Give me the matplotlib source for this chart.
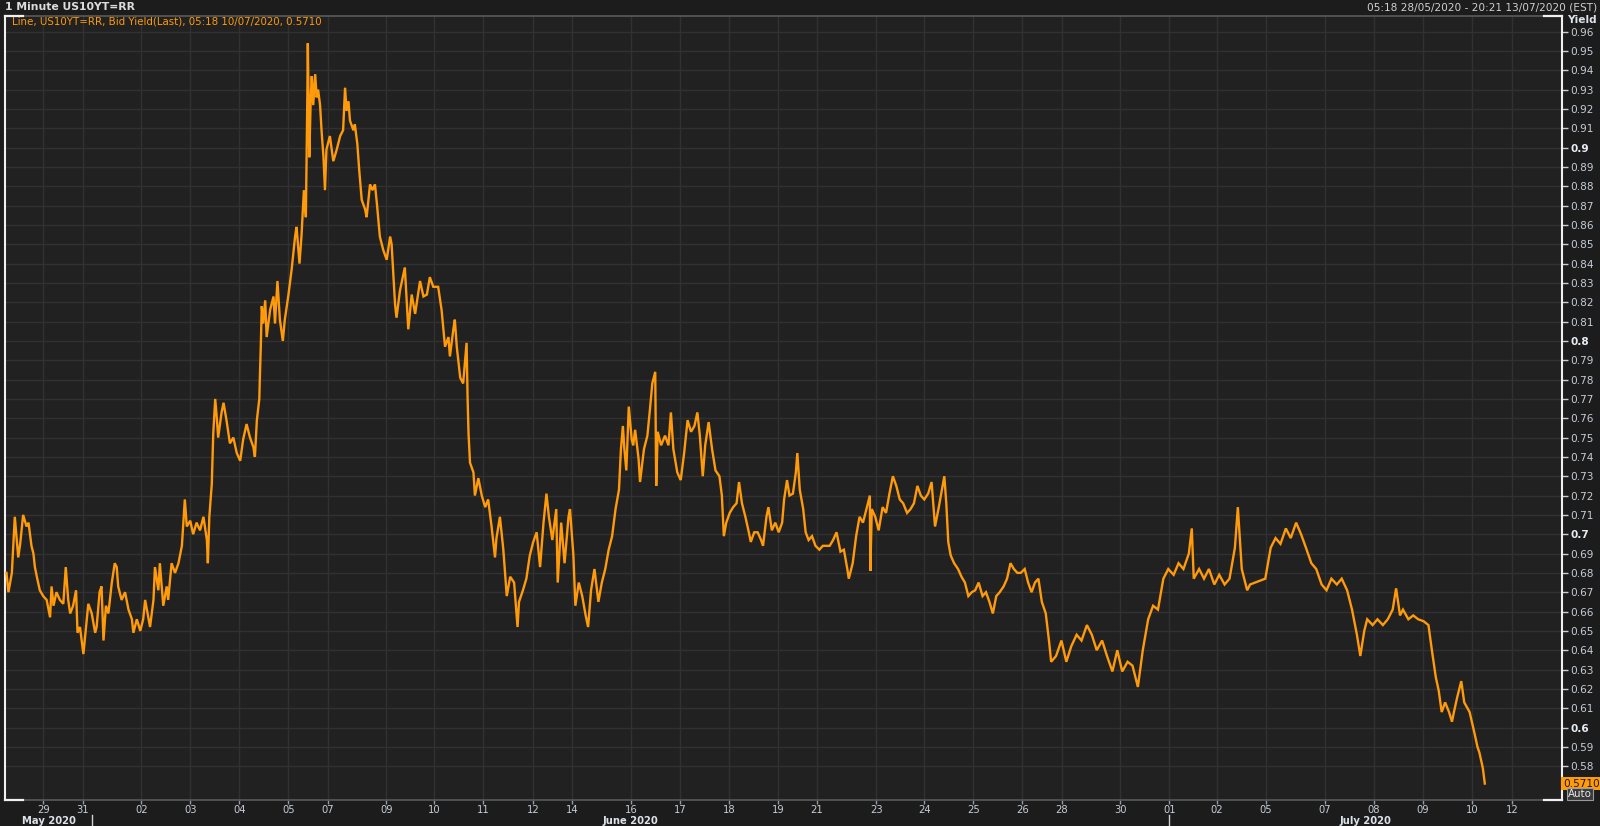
import matplotlib
matplotlib.use("Agg")
import matplotlib.pyplot as plt
import matplotlib.transforms as mtransforms

# ---------------- data (session-day units from 05:18 28/05/2020) ----------------
t_days = [
    0.03, 0.07, 0.14, 0.20, 0.24, 0.27, 0.31, 0.37, 0.44, 0.48, 0.54, 0.58, 0.61, 0.65, 0.71,
    0.78, 0.85, 0.92, 0.95, 0.99, 1.05, 1.12, 1.19, 1.24, 1.29, 1.33, 1.39, 1.45, 1.48, 1.53,
    1.60, 1.67, 1.70, 1.77, 1.84, 1.87, 1.93, 1.97, 2.01, 2.06, 2.11, 2.18, 2.24, 2.28, 2.31,
    2.38, 2.45, 2.52, 2.59, 2.62, 2.69, 2.76, 2.82, 2.86, 2.93, 2.96, 3.03, 3.06, 3.13, 3.16,
    3.23, 3.30, 3.33, 3.40, 3.47, 3.54, 3.61, 3.67, 3.71, 3.78, 3.84, 3.91, 3.98, 4.05, 4.12,
    4.14, 4.17, 4.22, 4.25, 4.29, 4.32, 4.35, 4.42, 4.46, 4.52, 4.59, 4.66, 4.73, 4.80, 4.86,
    4.93, 5.00, 5.07, 5.10, 5.14, 5.19, 5.20, 5.22, 5.24, 5.27, 5.31, 5.34, 5.41, 5.48, 5.51,
    5.56, 5.61, 5.67, 5.71, 5.78, 5.85, 5.92, 5.95, 6.01, 6.05, 6.10, 6.14, 6.17, 6.18, 6.21,
    6.24, 6.26, 6.29, 6.33, 6.36, 6.39, 6.43, 6.46, 6.50, 6.53, 6.56, 6.63, 6.70, 6.77, 6.84,
    6.90, 6.94, 6.97, 7.01, 7.04, 7.11, 7.14, 7.19, 7.23, 7.28, 7.35, 7.38, 7.45, 7.50, 7.55,
    7.59, 7.65, 7.72, 7.79, 7.86, 7.89, 7.96, 7.99, 8.06, 8.16, 8.23, 8.30, 8.37, 8.47, 8.54,
    8.61, 8.67, 8.74, 8.84, 8.91, 8.98, 9.05, 9.08, 9.15, 9.18, 9.22, 9.29, 9.35, 9.42, 9.44,
    9.46, 9.49, 9.56, 9.59, 9.66, 9.73, 9.80, 9.86, 9.93, 10.00, 10.03,
    10.10, 10.17, 10.21, 10.24, 10.31, 10.39, 10.46, 10.49, 10.57, 10.64, 10.71, 10.78, 10.85,
    10.92, 10.99, 11.05, 11.10, 11.17, 11.25, 11.28, 11.35, 11.42, 11.50, 11.53, 11.60, 11.64,
    11.71, 11.78, 11.85, 11.90, 11.96, 12.03, 12.11, 12.18, 12.25, 12.32, 12.39, 12.46, 12.53,
    12.57, 12.61, 12.64, 12.68, 12.73, 12.79, 12.82, 12.86, 12.93, 12.96, 13.04, 13.11, 13.16,
    13.21, 13.27, 13.29, 13.32, 13.39, 13.47, 13.54, 13.59, 13.64, 13.72, 13.79, 13.86, 13.93,
    14.00, 14.07, 14.13, 14.18, 14.24, 14.29, 14.36, 14.43, 14.50, 14.58, 14.63, 14.67, 14.72,
    14.79, 14.86, 14.93, 14.98, 15.04, 15.11, 15.18, 15.22, 15.29, 15.36, 15.43, 15.47, 15.54,
    15.58, 15.65, 15.72, 15.79, 15.86, 15.90, 15.96, 16.01, 16.08, 16.14, 16.17, 16.22, 16.29,
    16.34, 16.40, 16.47, 16.54, 16.62, 16.69, 16.76, 16.83, 16.90, 16.97, 17.05, 17.12, 17.19,
    17.22, 17.30, 17.37, 17.44, 17.51, 17.58, 17.65, 17.66, 17.69, 17.76, 17.83, 17.91, 17.98,
    18.05, 18.12, 18.19, 18.26, 18.33, 18.41, 18.48, 18.55, 18.62, 18.69, 18.76, 18.84, 18.91,
    18.98, 19.05, 19.12, 19.17, 19.21, 19.25, 19.30, 19.37, 19.45, 19.52, 19.59, 19.66, 19.73,
    19.80, 19.87, 19.95, 20.02, 20.09, 20.16, 20.23, 20.30, 20.38, 20.45, 20.52, 20.59, 20.66,
    20.73, 20.81, 20.88, 20.95, 21.02, 21.09, 21.16, 21.24, 21.31,
    21.35, 21.45, 21.56, 21.66, 21.76, 21.87, 21.97, 22.08, 22.18, 22.28, 22.39, 22.49, 22.60,
    22.70, 22.80, 22.91, 23.01, 23.12, 23.22, 23.33, 23.43, 23.53, 23.64, 23.74, 23.85, 23.95,
    24.05, 24.16, 24.22, 24.26, 24.37, 24.47, 24.57, 24.68, 24.78, 24.89, 24.99, 25.10, 25.16,
    25.24, 25.35, 25.41, 25.72, 25.83, 25.93, 26.03, 26.14, 26.24, 26.35, 26.45, 26.55, 26.66,
    26.76, 26.87, 26.97, 27.07, 27.18, 27.28, 27.39, 27.49, 27.59, 27.66, 27.74, 27.80, 27.91,
    28.01, 28.12, 28.22, 28.32, 28.39, 28.47, 28.53, 28.64, 28.74, 28.84, 28.95, 29.05, 29.12,
    29.20, 29.26, 29.32, 29.39, 29.47, 29.53, 29.57, 29.64, 29.72, 29.78, 29.89, 29.99, 30.05,
    30.09, 30.16, 30.20,
]

yield_vals = [
    0.680, 0.670, 0.680, 0.709, 0.697, 0.688, 0.695, 0.710, 0.704, 0.706, 0.694, 0.690, 0.683, 0.678, 0.671,
    0.668, 0.666, 0.657, 0.673, 0.663, 0.670, 0.666, 0.664, 0.683, 0.666, 0.659, 0.663, 0.671, 0.649, 0.652,
    0.638, 0.656, 0.664, 0.659, 0.649, 0.652, 0.670, 0.673, 0.645, 0.663, 0.659, 0.675, 0.685, 0.683, 0.673,
    0.666, 0.670, 0.661, 0.656, 0.649, 0.656, 0.650, 0.656, 0.666, 0.656, 0.652, 0.666, 0.683, 0.671, 0.685,
    0.663, 0.673, 0.666, 0.685, 0.680, 0.685, 0.694, 0.718, 0.704, 0.707, 0.700, 0.706, 0.702, 0.709, 0.697,
    0.685, 0.709, 0.726, 0.752, 0.770, 0.761, 0.750, 0.763, 0.768, 0.759, 0.747, 0.750, 0.742, 0.738, 0.749,
    0.757, 0.750, 0.745, 0.740, 0.759, 0.770, 0.780, 0.797, 0.818, 0.809, 0.821, 0.802, 0.816, 0.823, 0.809,
    0.831, 0.811, 0.800, 0.811, 0.823, 0.837, 0.854, 0.859, 0.840, 0.854, 0.878, 0.864, 0.926, 0.954, 0.895,
    0.926, 0.937, 0.922, 0.938, 0.926, 0.930, 0.922, 0.909, 0.895, 0.878, 0.899, 0.906, 0.893, 0.899, 0.906,
    0.909, 0.931, 0.919, 0.924, 0.914, 0.909, 0.912, 0.902, 0.888, 0.873, 0.868, 0.864, 0.881, 0.878, 0.881,
    0.871, 0.854, 0.847, 0.842, 0.854, 0.850, 0.819, 0.812, 0.826, 0.838, 0.806, 0.824, 0.814, 0.831, 0.823,
    0.824, 0.833, 0.828, 0.828, 0.816, 0.797, 0.802, 0.792, 0.806, 0.811, 0.797, 0.781, 0.778, 0.799, 0.771,
    0.752, 0.737, 0.732, 0.720, 0.729, 0.720, 0.714, 0.718, 0.704, 0.688, 0.698,
    0.709, 0.692, 0.678, 0.668, 0.678, 0.675, 0.652, 0.665, 0.671, 0.677, 0.689, 0.696, 0.701,
    0.683, 0.706, 0.721, 0.709, 0.697, 0.713, 0.675, 0.706, 0.685, 0.709, 0.713, 0.689, 0.663,
    0.675, 0.668, 0.658, 0.652, 0.671, 0.682, 0.665, 0.675, 0.682, 0.692, 0.699, 0.713, 0.723,
    0.744, 0.756, 0.744, 0.733, 0.766, 0.749, 0.746, 0.754, 0.739, 0.727, 0.744, 0.751, 0.764,
    0.778, 0.784, 0.725, 0.753, 0.746, 0.751, 0.746, 0.763, 0.744, 0.732, 0.728, 0.742, 0.759,
    0.753, 0.756, 0.763, 0.751, 0.730, 0.746, 0.758, 0.744, 0.733, 0.730, 0.720, 0.699, 0.706,
    0.711, 0.714, 0.716, 0.727, 0.716, 0.709, 0.701, 0.696, 0.701, 0.701, 0.697, 0.694, 0.709,
    0.714, 0.702, 0.706, 0.701, 0.706, 0.718, 0.728, 0.720, 0.721, 0.732, 0.742, 0.723, 0.713,
    0.701, 0.697, 0.699, 0.694, 0.692, 0.694, 0.694, 0.694, 0.697, 0.701, 0.691, 0.692, 0.682,
    0.677, 0.685, 0.699, 0.709, 0.706, 0.713, 0.720, 0.681, 0.713, 0.709, 0.702, 0.714, 0.711,
    0.721, 0.730, 0.725, 0.718, 0.716, 0.711, 0.713, 0.716, 0.725, 0.720, 0.718, 0.721, 0.727,
    0.704, 0.713, 0.723, 0.730, 0.716, 0.696, 0.689, 0.685, 0.682, 0.678, 0.675, 0.668, 0.670,
    0.671, 0.675, 0.668, 0.670, 0.665, 0.659, 0.668, 0.670, 0.673, 0.677, 0.685, 0.682, 0.680,
    0.680, 0.682, 0.675, 0.670, 0.675, 0.677, 0.665, 0.659, 0.644,
    0.634, 0.637, 0.645, 0.634, 0.642, 0.648, 0.645, 0.653, 0.648, 0.640, 0.645, 0.637, 0.629,
    0.640, 0.629, 0.634, 0.632, 0.621, 0.640, 0.656, 0.663, 0.661, 0.677, 0.682, 0.679, 0.685,
    0.682, 0.690, 0.703, 0.677, 0.682, 0.677, 0.682, 0.674, 0.679, 0.674, 0.677, 0.693, 0.714,
    0.682, 0.671, 0.674, 0.677, 0.693, 0.698, 0.695, 0.703, 0.698, 0.706, 0.700, 0.693, 0.685,
    0.682, 0.674, 0.671, 0.677, 0.674, 0.677, 0.671, 0.661, 0.648, 0.637, 0.650, 0.656, 0.653,
    0.656, 0.653, 0.656, 0.661, 0.672, 0.658, 0.661, 0.656, 0.658, 0.656, 0.655, 0.653, 0.640,
    0.626, 0.619, 0.608, 0.613, 0.608, 0.603, 0.608, 0.616, 0.624, 0.613, 0.608, 0.597, 0.590,
    0.587, 0.579, 0.571,
]

tick_days = [0.78, 1.59, 2.78, 3.78, 4.78, 5.78, 6.59, 7.78, 8.76, 9.76, 10.78, 11.57, 12.78,
             13.78, 14.78, 15.78, 16.57, 17.78, 18.76, 19.76, 20.76, 21.57, 22.76, 23.76, 24.73,
             25.73, 26.94, 27.94, 28.94, 29.94, 30.76]
tick_labels = ["29", "31", "02", "03", "04", "05", "07", "09", "10", "11", "12", "14", "16",
               "17", "18", "19", "21", "23", "24", "25", "26", "28", "30", "01", "02",
               "05", "07", "08", "09", "10", "12"]
month_labels = ["May 2020", "June 2020", "July 2020"]
month_label_days = [0.90, 12.76, 27.76]
month_start_days = [1.78, 23.76]
y_ticks = [round(0.58 + 0.01 * i, 2) for i in range(39)]
last_value = 0.5710

title_left = "1 Minute US10YT=RR"
title_right = "05:18 28/05/2020 - 20:21 13/07/2020 (EST)"
legend_text = "Line, US10YT=RR, Bid Yield(Last), 05:18 10/07/2020, 0.5710"

# ---------------- style ----------------
FIG_BG = "#1c1c1c"
AX_BG = "#212121"
GRID = "#313131"
ORANGE = "#ff9a0a"
LABEL = "#c5cdd6"

W, H = 1600, 826
fig = plt.figure(figsize=(W / 100, H / 100), dpi=100, facecolor=FIG_BG)
L, R, T, B = 5, 1562, 16, 800
ax = fig.add_axes([L / W, (H - B) / H, (R - L) / W, (B - T) / H], facecolor=AX_BG)

ax.plot(t_days, yield_vals, color=ORANGE, lw=1.7, solid_joinstyle="miter", zorder=3)

ax.set_xlim(0, (R - L) / 49.0)
ax.set_ylim(0.5625, 0.9681)

ax.set_xticks(tick_days)
ax.set_xticklabels(tick_labels)
ax.set_yticks(y_ticks)
ax.grid(True, color=GRID, lw=1.0, zorder=0)
ax.set_axisbelow(True)

ax.yaxis.tick_right()
ax.tick_params(axis="y", which="both", direction="out", length=4, width=1,
               colors="#d0d0d0", labelcolor=LABEL, labelsize=7.6, pad=2)
ax.tick_params(axis="x", which="both", direction="out", length=3, width=1,
               colors="#9a9a9a", labelcolor=LABEL, labelsize=7.2, pad=0.5)
ylabels = [("%.2f" % v).rstrip("0") for v in y_ticks]
ax.set_yticklabels(ylabels)
for lab, v in zip(ax.get_yticklabels(), y_ticks):
    if abs(v * 10 - round(v * 10)) < 1e-6:
        lab.set_fontweight("bold")
        lab.set_color("#e6ecf2")

# spines
for s in ["top", "bottom"]:
    ax.spines[s].set_color("#5a5a5a")
    ax.spines[s].set_linewidth(1.2)
for s in ["left", "right"]:
    ax.spines[s].set_color("#f0f0f0")
    ax.spines[s].set_linewidth(1.5)

# white corner segments
corner_len = 18.0 / (R - L)
for (x0, x1, yy) in [(0, corner_len, 0), (1 - corner_len, 1, 0), (1 - corner_len, 1, 1), (0, corner_len, 1)]:
    ax.plot([x0, x1], [yy, yy], transform=ax.transAxes, color="#f0f0f0", lw=1.6,
            clip_on=False, zorder=5)

# month labels and separators
trans_xb = mtransforms.blended_transform_factory(ax.transData, ax.transAxes)
axh = (B - T)
for lab, d in zip(month_labels, month_label_days):
    ax.text(d, -(821 - B) / axh, lab, transform=trans_xb, ha="center", va="center",
            fontsize=7.2, fontweight="bold", color="#dde3ea")
for d in month_start_days:
    ax.plot([d, d], [-(815 - B) / axh, -(826 - B) / axh], transform=trans_xb,
            color="#d0d0d0", lw=1.0, clip_on=False)

# header texts
fig.text(5 / W, 1 - 7 / H, title_left, ha="left", va="center", fontsize=7.8,
         fontweight="bold", color="#dcdcdc")
fig.text(1597 / W, 1 - 7 / H, title_right, ha="right", va="center", fontsize=7.6,
         color="#cfcfcf")
ax.text(7 / (R - L), 1 - 6 / axh, legend_text, transform=ax.transAxes, ha="left",
        va="center", fontsize=7.4, color=ORANGE)

# Yield label
ax.text(1 + 5 / (R - L), 1 - 4 / axh, "Yield", transform=ax.transAxes, ha="left",
        va="center", fontsize=7.6, fontweight="bold", color="#dde3ea")

# last value box
trans_ya = mtransforms.blended_transform_factory(ax.transAxes, ax.transData)
ax.text(1 + 1 / (R - L), last_value, "%.4f" % last_value, transform=trans_ya, ha="left",
        va="center", fontsize=7.6, color="#1a1a1a", clip_on=False,
        bbox=dict(boxstyle="square,pad=0.15", fc="#ff9a0a", ec="none"))
ax.text(1 + 6 / (R - L), 6 / axh, "Auto", transform=ax.transAxes,
        ha="left", va="center", fontsize=7.4, color="#e8e8e8", clip_on=False,
        bbox=dict(boxstyle="square,pad=0.1", fc="#3a3a3a", ec="#9a9a9a", lw=0.8))

fig.savefig("out.png", dpi=100, facecolor=FIG_BG)
